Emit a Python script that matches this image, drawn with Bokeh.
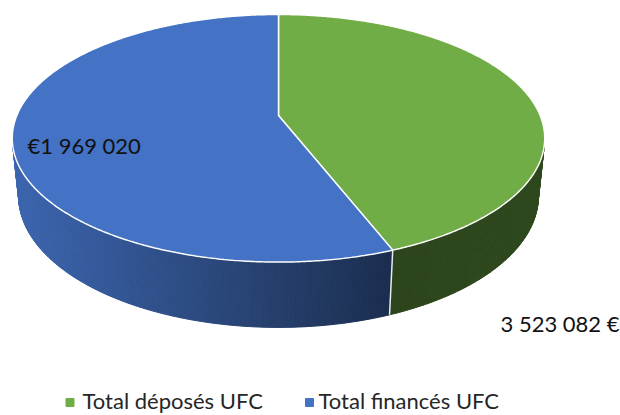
import numpy as np
from bokeh.plotting import figure
from bokeh.models import Range1d
from bokeh.embed import file_html
from bokeh.resources import INLINE
from bokeh.core.properties import value

# ---------------- data ----------------
categories = ["Total déposés UFC", "Total financés UFC"]
values = [1554062, 1969020]            # slice amounts (green share ~44 %, blue ~56 %)
data_labels = ["3 523 082 €", "€1 969 020"]
top_colors = ["#70AD47", "#4472C4"]

# ---------------- layout / style ----------------
W, H = 620, 415
CX, CY = 278, 115          # projected centre of the pie top
ELEV = np.radians(27.2)    # camera elevation
SN, CS = np.sin(ELEV), np.cos(ELEV)
DIST = 5.435 * CS          # perspective distance (radius = 1)
FOC = 1265.0               # focal length in px
DEPTH = 0.2506             # pie thickness (radius = 1)
FONT = "Lato"

label_pos = [(500, 323), (27, 145)]      # (x, y) of each data label, left aligned
legend_sq_x = [69.5, 309.0]
legend_tx_x = [82.0, 318.0]
legend_mid = 400.0


def project(X, Y, Z):
    X, Y, Z = np.asarray(X, float), np.asarray(Y, float), np.asarray(Z, float)
    yc = Y * SN + Z * CS
    d = DIST + Y * CS - Z * SN
    return CX + FOC * X / d, CY - FOC * yc / d


def hex_to_rgb(h):
    h = h.lstrip("#")
    return np.array([int(h[i:i + 2], 16) for i in (0, 2, 4)], float)


def shade(hexcol, f):
    r, g, b = np.clip(hex_to_rgb(hexcol) * f, 0, 255).astype(int)
    return "#%02x%02x%02x" % (r, g, b)


p = figure(width=W, height=H, x_range=Range1d(0, W), y_range=Range1d(H, 0),
           output_backend="svg", toolbar_location=None, min_border=0,
           x_axis_type=None, y_axis_type=None)
p.grid.visible = False
p.outline_line_color = None
p.background_fill_color = "white"
p.border_fill_color = "white"

total = float(sum(values))
fracs = np.array(values, float) / total
cum = np.concatenate([[0.0], np.cumsum(fracs)])
a0s = np.pi / 2 - 2 * np.pi * cum[:-1]   # start angle (clockwise from 12 o'clock)
a1s = np.pi / 2 - 2 * np.pi * cum[1:]

# visible part of the outer wall
k = np.arcsin(1.0 / (DIST * CS))
vis_lo, vis_hi = np.pi + k, 2 * np.pi - k

side_xs, side_ys, side_cols = [], [], []
seams = []
for i in range(len(values)):
    lo, hi = a1s[i], a0s[i]
    for m in (-2, -1, 0, 1):
        vlo, vhi = vis_lo + 2 * np.pi * m, vis_hi + 2 * np.pi * m
        s_lo, s_hi = max(lo, vlo), min(hi, vhi)
        if s_hi <= s_lo:
            continue
        n = max(2, int(np.degrees(s_hi - s_lo) / 0.6))
        ts = np.linspace(s_lo, s_hi, n + 1)
        for t1, t2 in zip(ts[:-1], ts[1:]):
            tt = np.array([t1, t2, t2, t1])
            zz = np.array([0, 0, -DEPTH, -DEPTH])
            sx, sy = project(np.cos(tt), np.sin(tt), zz)
            xm = sx.mean()
            f = np.clip(0.90 - 0.50 * (xm - 13) / (393 - 13), 0.40, 0.90)
            if i == 0:
                f = 0.40 + 0.02 * (xm - 393) / 150
            side_xs.append(list(sx))
            side_ys.append(list(sy))
            side_cols.append(shade(top_colors[i], f))
    # slice boundary seam on the wall
    for m in (-1, 0, 1):
        t = a1s[i] + 2 * np.pi * m
        if vis_lo < t < vis_hi:
            seams.append(t)

p.patches(side_xs, side_ys, fill_color=side_cols, line_color=side_cols, line_width=1)
for t in seams:
    sx, sy = project([np.cos(t)] * 2, [np.sin(t)] * 2, [0, -DEPTH])
    p.line(list(sx), list(sy), line_color="white", line_width=1.5, line_alpha=0.9)

# top faces
top_xs, top_ys = [], []
for i in range(len(values)):
    n = max(8, int(np.degrees(a0s[i] - a1s[i]) / 0.5))
    ts = np.linspace(a0s[i], a1s[i], n + 1)
    X = np.concatenate([[0.0], np.cos(ts)])
    Y = np.concatenate([[0.0], np.sin(ts)])
    sx, sy = project(X, Y, np.zeros_like(X))
    top_xs.append(list(sx))
    top_ys.append(list(sy))
p.patches(top_xs, top_ys, fill_color=top_colors, line_color="white", line_width=1.5)

# data labels
p.text(x=[q[0] for q in label_pos], y=[q[1] for q in label_pos], text=data_labels,
       text_font=value(FONT), text_font_size="22px", text_color="#111111",
       text_align="left", text_baseline="middle")

# legend
p.scatter(x=legend_sq_x, y=[legend_mid + 2] * 2, marker="square", size=8,
          fill_color=top_colors, line_color=top_colors)
p.text(x=legend_tx_x, y=[legend_mid] * 2, text=categories,
       text_font=value(FONT), text_font_size="22px", text_color="#262626",
       text_align="left", text_baseline="middle")

open("out.html", "w").write(file_html(p, INLINE))
